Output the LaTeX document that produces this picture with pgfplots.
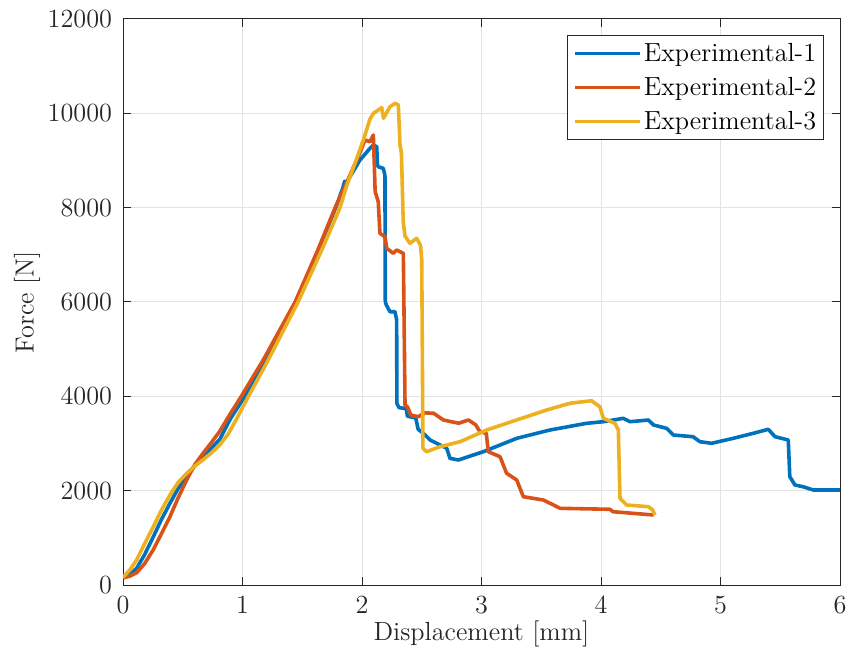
\documentclass[border=0pt]{standalone}
\usepackage{pgfplots}
\pgfplotsset{compat=1.18}
\definecolor{c1}{rgb}{0,0.447,0.741}
\definecolor{c2}{rgb}{0.85,0.325,0.098}
\definecolor{c3}{rgb}{0.929,0.694,0.125}
\definecolor{axc}{rgb}{0.15,0.15,0.15}
\begin{document}
\begin{tikzpicture}
\path[use as bounding box] (-61.5pt,-38.5pt) rectangle (363pt,292.5pt);
\begin{axis}[
  at={(0,0)}, anchor=south west,
  scale only axis, width=358.5pt, height=283pt,
  xmin=0, xmax=6, ymin=0, ymax=12000,
  xtick={0,1,2,3,4,5,6}, ytick={0,2000,4000,6000,8000,10000,12000},
  scaled y ticks=false,
  /pgf/number format/assume math mode=true,
  /pgf/number format/fixed,
  /pgf/number format/1000 sep={},
  font=\fontsize{13.1}{15.7}\selectfont,
  grid=major,
  major grid style={color=black!11, line width=0.5pt},
  axis line style={color=axc, line width=0.5pt},
  tick style={color=axc, line width=0.5pt},
  major tick length=4pt,
  tick label style={color=axc},
  xticklabel style={yshift=-2pt},
  yticklabel style={xshift=-2pt},
  xlabel={Displacement [mm]},
  ylabel={Force [N]},
  xlabel style={at={(axis description cs:0.5,0)}, anchor=base, yshift=-27.5pt, color=axc},
  ylabel style={at={(axis description cs:0,0.5)}, anchor=center, yshift=48pt, color=axc},
  legend cell align=left,
  legend style={at={(axis description cs:1,1)}, anchor=north east, xshift=-8pt, yshift=-8pt,
    draw=axc, line width=0.5pt, fill=white, font=\fontsize{13.1}{15.7}\selectfont,
    nodes={inner ysep=3.2pt, inner xsep=1.2pt}, inner xsep=2.5pt, inner ysep=0.5pt},
  legend image code/.code={\draw[#1, line width=1.8pt] (0pt,0pt) -- (32.5pt,0pt);},
  every axis plot/.append style={line width=1.8pt, line join=round},
]
\addplot[c1] coordinates {
(0,150) (0.06,230) (0.114,354) (0.18,640) (0.254,1024) (0.32,1380) (0.393,1732)
(0.46,2040) (0.533,2296) (0.6,2520) (0.672,2720) (0.74,2900) (0.81,3090) (0.90,3530)
(1.02,4000) (1.2,4760) (1.45,6000) (1.634,7100) (1.78,8000) (1.84,8420) (1.855,8560)
(1.87,8530) (1.983,9010) (2.067,9258) (2.095,9328) (2.123,9293) (2.13,8900) (2.136,8868)
(2.178,8833) (2.192,8692) (2.195,6000) (2.205,5930) (2.234,5794) (2.276,5794) (2.29,5618)
(2.292,3850) (2.31,3760) (2.37,3740) (2.38,3580) (2.45,3540) (2.47,3300) (2.513,3216)
(2.57,3074) (2.709,2898) (2.736,2686) (2.806,2650) (3.015,2826) (3.295,3110) (3.573,3286)
(3.88,3428) (4.02,3462) (4.187,3534) (4.243,3462) (4.396,3498) (4.44,3392) (4.55,3321)
(4.605,3180) (4.77,3144) (4.828,3038) (4.925,3004) (5.107,3110) (5.274,3216) (5.40,3300)
(5.456,3144) (5.567,3074) (5.58,2296) (5.623,2120) (5.69,2084) (5.777,2014) (6.0,2014)
};
\addlegendentry{Experimental-1}
\addplot[c2] coordinates {
(0,150) (0.06,190) (0.114,260) (0.18,450) (0.254,750) (0.32,1080) (0.393,1450)
(0.46,1840) (0.533,2230) (0.6,2550) (0.672,2800) (0.74,3020) (0.81,3260) (0.876,3540)
(0.99,4000) (1.18,4800) (1.44,6000) (1.63,7100) (1.775,8000) (1.87,8520) (1.98,9150)
(2.025,9434) (2.067,9398) (2.095,9540) (2.11,8338) (2.136,8126) (2.15,7456) (2.192,7384)
(2.207,7138) (2.262,7032) (2.29,7102) (2.346,7032) (2.355,5000) (2.36,3816) (2.38,3780)
(2.41,3600) (2.47,3570) (2.53,3650) (2.6,3640) (2.68,3500) (2.75,3460) (2.81,3430)
(2.89,3498) (2.95,3400) (2.987,3250) (3.04,3216) (3.057,2826) (3.155,2720) (3.21,2368)
(3.295,2226) (3.35,1872) (3.517,1802) (3.6,1700) (3.657,1626) (4.075,1605) (4.10,1554)
(4.44,1484)
};
\addlegendentry{Experimental-2}
\addplot[c3] coordinates {
(0,160) (0.06,330) (0.114,530) (0.18,870) (0.254,1236) (0.32,1580) (0.393,1908)
(0.46,2170) (0.533,2368) (0.6,2520) (0.672,2660) (0.74,2800) (0.81,2970) (0.88,3200)
(0.95,3520) (1.05,4000) (1.215,4770) (1.465,6000) (1.663,7100) (1.816,8000) (1.87,8450)
(1.95,9000) (2.02,9500) (2.067,9880) (2.095,10000) (2.165,10120) (2.18,9894) (2.234,10140)
(2.276,10212) (2.304,10176) (2.318,9328) (2.33,9152) (2.345,7700) (2.36,7400) (2.40,7244)
(2.458,7350) (2.49,7200) (2.50,6890) (2.51,2900) (2.54,2826) (2.653,2932) (2.82,3038)
(3.043,3286) (3.21,3428) (3.545,3710) (3.74,3852) (3.92,3907) (3.99,3780) (4.02,3534)
(4.117,3428) (4.145,3286) (4.159,1838) (4.215,1696) (4.396,1660) (4.43,1600) (4.452,1484)
};
\addlegendentry{Experimental-3}
\end{axis}
\end{tikzpicture}
\end{document}
